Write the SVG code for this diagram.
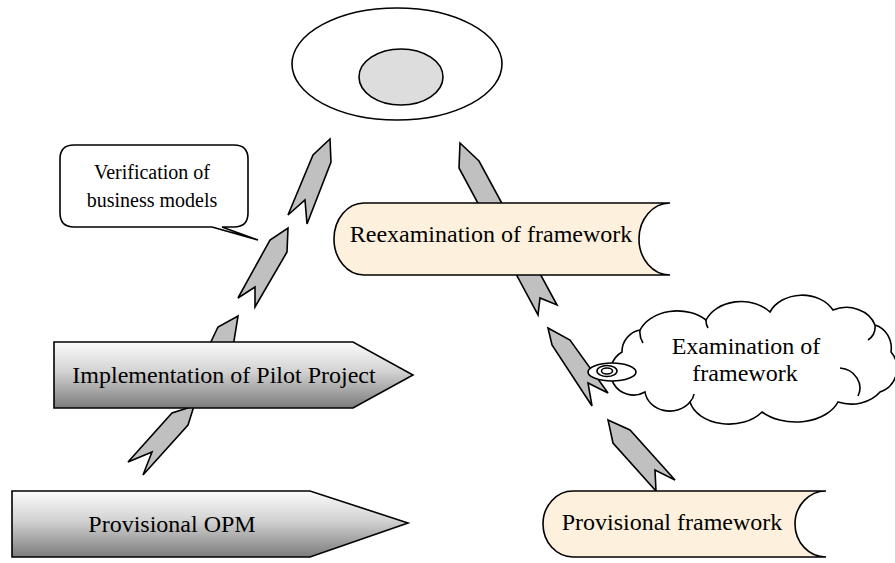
<svg xmlns="http://www.w3.org/2000/svg" width="895" height="563" viewBox="0 0 895 563">
  <defs>
    <linearGradient id="steel" x1="0" y1="0" x2="0" y2="1">
      <stop offset="0" stop-color="#fbfbfb"/>
      <stop offset="0.45" stop-color="#d2d2d2"/>
      <stop offset="1" stop-color="#7c7c7c"/>
    </linearGradient>
  </defs>
  <style>
    .ln { stroke: #000; stroke-width: 1.6; stroke-linejoin: miter; }
    .arw { fill: #c0c0c0; stroke: #000; stroke-width: 1.6; stroke-linejoin: miter; }
    .bar { fill: url(#steel); stroke: #000; stroke-width: 1.6; }
    .scroll { fill: #fdf0dc; stroke: #000; stroke-width: 1.6; }
    .t { font-family: "Liberation Serif", "Times New Roman", serif; font-size: 24px; fill: #000; text-anchor: middle; }
    .ts { font-family: "Liberation Serif", "Times New Roman", serif; font-size: 20px; fill: #000; text-anchor: middle; }
  </style>

  <!-- connectors: notched ribbon arrows, drawn beneath the nodes -->
  <g id="connectors">
    <polygon class="arw" points="194,406 188,425 143,475 152,452 128,462 172,413"/>
    <polygon class="arw" points="238,316 234,341 205,395 200,385 188,390 218,327"/>
    <polygon class="arw" points="288,228 287,252 255,307 255,287 238,298 270,240"/>
    <polygon class="arw" points="330,139 331,162 307,224 305,200 288,215 313,155"/>
    <polygon class="arw" points="460,143 479,161 557,305 540,298 538,315 459,168"/>
    <polygon class="arw" points="548,328 570,340 608,393 588,383 592,406 552,345"/>
    <polygon class="arw" points="608,420 630,430 675,480 655,470 656,491 613,443"/>
  </g>

  <g id="goal">
    <ellipse class="ln" cx="397" cy="64" rx="105" ry="56" fill="#fff"/>
    <ellipse class="ln" cx="401" cy="77" rx="42" ry="28" fill="#dddddd"/>
  </g>

  <g id="verification-callout">
    <path class="ln" fill="#fff" d="M 74,145 H 234 Q 248,145 248,159 V 213 Q 248,227 234,227 H 222 L 258,240 L 212,227 H 74 Q 60,227 60,213 V 159 Q 60,145 74,145 Z"/>
    <text class="ts" x="152" y="179">Verification of</text>
    <text class="ts" x="152" y="207">business models</text>
  </g>

  <g id="pilot-project">
    <polygon class="bar" points="54,342 353,342 413,375 353,408 54,408"/>
    <text class="t" x="224" y="383">Implementation of Pilot Project</text>
  </g>

  <g id="provisional-opm">
    <polygon class="bar" points="12,491 310,491 408,523 310,557 12,557"/>
    <text class="t" x="172" y="532">Provisional OPM</text>
  </g>

  <g id="reexamination">
    <path class="scroll" d="M 364,203 H 670 A 31 36 0 0 0 670,275 H 364 A 30 36 0 0 1 364,203 Z"/>
    <text class="t" x="491" y="242">Reexamination of framework</text>
  </g>

  <g id="examination-cloud">
    <path class="ln" fill="#fff" d="M 622,352 A 22 22 0 0 1 640,330 A 40 30 0 0 1 706,320 A 38 30 0 0 1 770,312 A 35 28 0 0 1 833,310 A 30 25 0 0 1 875,325 A 22 24 0 0 1 891,352 A 25 25 0 0 1 880,392 A 35 28 0 0 1 838,402 A 45 30 0 0 1 762,412 A 40 28 0 0 1 690,402 A 25 22 0 0 1 645,392 A 22 22 0 0 1 622,352 Z"/>
    <path class="ln" fill="none" d="M 640,330 A 20 20 0 0 0 643,343 M 706,320 A 14 14 0 0 0 708,328 M 875,325 A 16 16 0 0 1 868,340 M 858,396 A 22 20 0 0 0 840,368 M 690,402 A 20 16 0 0 0 694,394"/>
    <ellipse class="ln" cx="612" cy="372" rx="24" ry="9" fill="#fff"/>
    <ellipse class="ln" cx="607" cy="371" rx="10" ry="5.5" fill="#fff"/>
    <ellipse class="ln" cx="607" cy="371" rx="5.5" ry="3" fill="#fff"/>
    <text class="t" x="746" y="354">Examination of</text>
    <text class="t" x="745" y="381">framework</text>
  </g>

  <g id="provisional-framework">
    <path class="scroll" d="M 573,491 H 826 A 31 33 0 0 0 826,557 H 573 A 30 33 0 0 1 573,491 Z"/>
    <text class="t" x="672" y="530">Provisional framework</text>
  </g>
</svg>
